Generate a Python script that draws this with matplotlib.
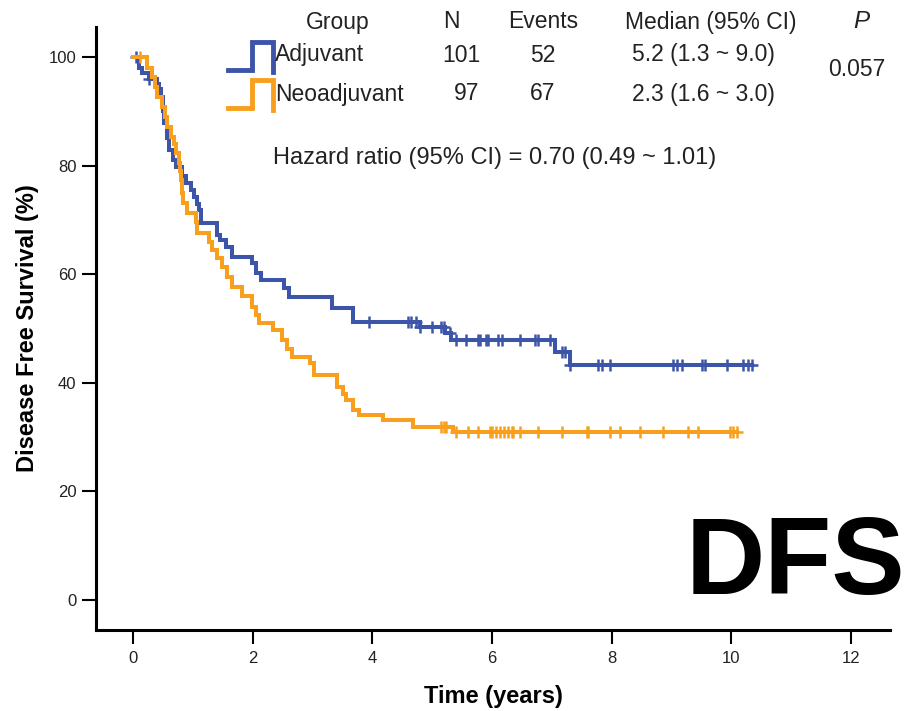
import numpy as np
import matplotlib
matplotlib.use('Agg')
from matplotlib import pyplot as plt
from matplotlib.lines import Line2D

plt.rcParams['font.family'] = ['Liberation Sans', 'DejaVu Sans']

# Adjuvant: step times and survival after each step
adj_t = [0, 0.10, 0.15, 0.27, 0.40, 0.44, 0.47, 0.50, 0.52, 0.57, 0.60, 0.67, 0.72,
         0.82, 0.89, 0.97, 1.02, 1.07, 1.10, 1.14, 1.40, 1.45, 1.56, 1.66, 1.99, 2.06,
         2.14, 2.53, 2.61, 3.33, 3.67, 4.79, 5.22, 5.32, 7.05, 7.30, 10.34]
adj_s = [100, 98, 97, 96, 95, 94, 92.6, 90, 87.8, 85, 82.9, 81, 79.7,
         78, 76.8, 75.5, 74.2, 73, 71.8, 69.4, 67.3, 66.3, 65, 63.2, 62, 60.2,
         59, 57.5, 55.8, 53.8, 51.2, 50.3, 49.1, 47.9, 45.7, 43.3, 43.3]
adj_cens = [0.05, 0.27, 3.95, 4.59, 4.65, 4.73, 4.79, 5.0, 5.15, 5.2, 5.29, 5.4, 5.57,
            5.76, 5.79, 5.9, 5.93, 6.1, 6.16, 6.46, 6.71, 6.76, 6.96, 7.16, 7.21,
            7.3, 7.77, 7.83, 7.97, 9.02, 9.09, 9.17, 9.51, 9.56, 9.92, 10.19,
            10.28, 10.34]

# Neoadjuvant
neo_t = [0, 0.23, 0.32, 0.37, 0.40, 0.49, 0.54, 0.57, 0.64, 0.69, 0.72, 0.77, 0.79,
         0.80, 0.82, 0.84, 0.90, 1.05, 1.07, 1.27, 1.32, 1.41, 1.49, 1.57, 1.66,
         1.82, 1.99, 2.06, 2.11, 2.33, 2.49, 2.58, 2.66, 2.95, 3.03, 3.40, 3.50,
         3.56, 3.67, 3.78, 4.17, 4.67, 5.34, 10.10]
neo_s = [100, 98, 96.3, 94.5, 92.6, 90.8, 89, 87, 85.3, 84, 82.3, 80.5, 79,
         77.3, 75, 73.1, 71.3, 69.6, 67.6, 66, 64.5, 63, 61.3, 59.5, 57.6,
         56, 54, 52.5, 51, 49.7, 47.9, 46.3, 44.8, 43.6, 41.4, 39.2, 38,
         36.8, 35, 34.1, 33.1, 31.9, 30.9, 30.9]
neo_cens = [0.12, 5.15, 5.2, 5.23, 5.4, 5.6, 5.76, 5.96, 6.0, 6.07, 6.13, 6.2, 6.26,
            6.33, 6.35, 6.46, 6.76, 7.16, 7.58, 7.6, 7.97, 8.13, 8.47, 8.85, 9.27,
            9.44, 9.97, 10.03, 10.1]

blue = '#3d55a8'
orange = '#f8a01e'
txt = '#222222'

W, H = 912, 711
fig = plt.figure(figsize=(W / 100, H / 100), dpi=100)
ax = fig.add_axes([96 / W, 1 - 630 / H, (890 - 96) / W, (630 - 27) / H])


def surv_at(ts, ss, c):
    idx = np.searchsorted(ts, c, side='right') - 1
    return np.array(ss)[idx]


for ts, ss, cens, col in [(adj_t, adj_s, adj_cens, blue), (neo_t, neo_s, neo_cens, orange)]:
    ax.step(ts, ss, where='post', color=col, lw=2.9, solid_joinstyle='miter')
    ax.plot(cens, surv_at(ts, ss, cens), '+', color=col, ms=8, mew=1.8)

ax.set_xlim(-0.62, 12.65)
ax.set_ylim(-5.5, 105.5)
ax.set_xticks(range(0, 13, 2))
ax.set_yticks(range(0, 101, 20))
for s in ['top', 'right']:
    ax.spines[s].set_visible(False)
for s in ['left', 'bottom']:
    ax.spines[s].set_linewidth(2.2)
ax.tick_params(axis='both', direction='out', length=10, width=1.5, labelsize=12,
               labelcolor=txt)
ax.tick_params(axis='x', pad=5)
ax.tick_params(axis='y', pad=4)
ax.set_xlabel('Time (years)', fontsize=17, fontweight='bold', labelpad=14)
ax.set_ylabel('Disease Free Survival (%)', fontsize=17, fontweight='bold', labelpad=7)


def fx(x):
    return x / W


def fy(y):
    return 1 - y / H


fs = 16.5
fig.text(fx(338), fy(22), 'Group', fontsize=fs, ha='center', va='center', color=txt)
fig.text(fx(451), fy(22), 'N', fontsize=fs, ha='center', va='center', color=txt)
fig.text(fx(543), fy(22), 'Events', fontsize=fs, ha='center', va='center', color=txt)
fig.text(fx(711), fy(22), 'Median (95% CI)', fontsize=fs, ha='center', va='center', color=txt)
fig.text(fx(861), fy(22), 'P', fontsize=fs + 1, ha='center', va='center', style='italic', color=txt)

fig.text(fx(275), fy(55), 'Adjuvant', fontsize=fs, ha='left', va='center', color=txt)
fig.text(fx(461), fy(55), '101', fontsize=fs, ha='center', va='center', color=txt)
fig.text(fx(543), fy(55), '52', fontsize=fs, ha='center', va='center', color=txt)
fig.text(fx(703), fy(55), '5.2 (1.3 ~ 9.0)', fontsize=fs, ha='center', va='center', color=txt)
fig.text(fx(275), fy(94), 'Neoadjuvant', fontsize=fs, ha='left', va='center', color=txt)
fig.text(fx(467), fy(94), '97', fontsize=fs, ha='center', va='center', color=txt)
fig.text(fx(543), fy(94), '67', fontsize=fs, ha='center', va='center', color=txt)
fig.text(fx(703), fy(94), '2.3 (1.6 ~ 3.0)', fontsize=fs, ha='center', va='center', color=txt)
fig.text(fx(857), fy(70), '0.057', fontsize=fs, ha='center', va='center', color=txt)
fig.text(fx(495), fy(158), 'Hazard ratio (95% CI) = 0.70 (0.49 ~ 1.01)', fontsize=17,
         ha='center', va='center', color=txt)

# legend step icons
for y0, ytop, col in [(70, 42, blue), (108, 80, orange)]:
    xs = [fx(228), fx(252), fx(252), fx(273), fx(273)]
    ys = [fy(y0), fy(y0), fy(ytop), fy(ytop), fy(y0 + 2)]
    fig.add_artist(Line2D(xs, ys, color=col, lw=3.5, solid_joinstyle='miter'))

fig.text(fx(795), fy(566), 'DFS', fontsize=79, fontweight='bold', ha='center', va='center',
         color='black')

fig.savefig('out.png', dpi=100)
